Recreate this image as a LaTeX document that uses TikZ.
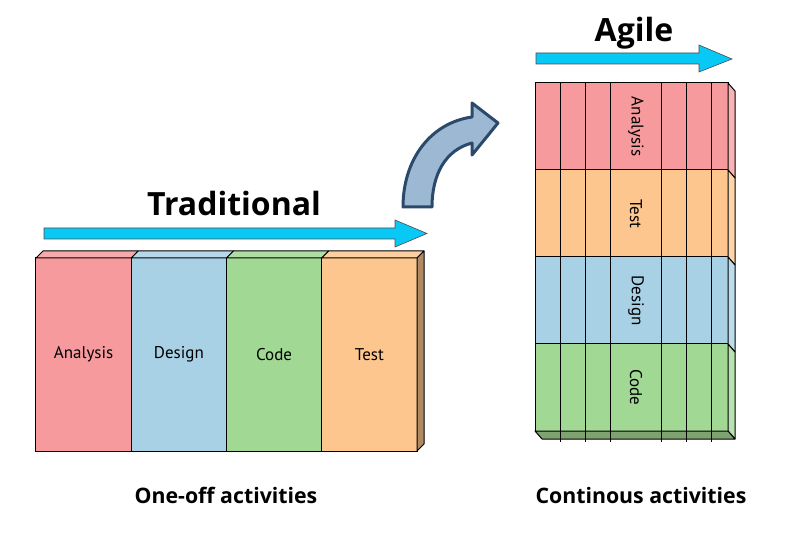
\documentclass[tikz,border=0pt]{standalone}
\usepackage{tikz}
\usepackage{xcolor}
\usepackage{fontspec}
\setmainfont{PT Sans}
\newfontfamily\titlefont{Open Sans}
\definecolor{anared}{RGB}{247,154,157}
\definecolor{desblue}{RGB}{169,209,230}
\definecolor{codgreen}{RGB}{160,216,148}
\definecolor{tesorange}{RGB}{253,198,143}
\definecolor{flowcyan}{RGB}{8,200,245}
\definecolor{bendfill}{RGB}{157,184,211}
\definecolor{bendline}{RGB}{43,74,107}
\definecolor{sidebrown}{RGB}{176,138,98}
\definecolor{basegreen}{RGB}{126,162,112}

\begin{document}
\begin{tikzpicture}[x=1pt,y=-1pt,
            col/.style={rectangle,draw=black,line width=1pt,inner sep=0pt,outer sep=0pt,minimum width=95.25pt,minimum height=193pt,font=\fontsize{17}{19}\selectfont},
            band/.style={rectangle,draw=black,line width=1pt,inner sep=0pt,outer sep=0pt,minimum width=193pt,minimum height=87pt},
            face/.style={draw=black,line width=1pt,line join=round},
            flow/.style={draw=black!70,line width=0.6pt,fill=flowcyan},
            bentarrow/.style={draw=bendline,line width=3pt,line join=round,fill=bendfill},
            title/.style={font=\titlefont\bfseries\fontsize{32}{35}\selectfont,anchor=base},
            caption/.style={font=\titlefont\bfseries\fontsize{21.3}{24}\selectfont,anchor=base},
            vlabel/.style={rotate=-90,font=\fontsize{17}{19}\selectfont}]
            \useasboundingbox (0,0) rectangle (785,537);

            \node[col,fill=anared] (A) at (83.6,354.5) {Analysis};
            \node[col,fill=desblue] (D) at (178.9,354.5) {Design};
            \node[col,fill=codgreen] (C) at (274.1,354.5) {Code};
            \node[col,fill=tesorange] (T) at (369.4,354.5) {Test};
            \foreach \n/\c in {A/anared,D/desblue,C/codgreen,T/tesorange}
                \filldraw[face,fill=\c!85!white] (\n.north west) -- ++(7,-7) -- ([shift={(7,-7)}]\n.north east) -- (\n.north east) -- cycle;
            \filldraw[face,fill=sidebrown] (T.north east) -- ++(7,-7) -- ([shift={(7,-7)}]T.south east) -- (T.south east) -- cycle;

            \filldraw[flow] (44,228) -- (395,228) -- (395,220) -- (427,233.5) -- (395,247) -- (395,239) -- (44,239) -- cycle;
            \node[title] (Tr) at (234,216) {Traditional};
            \node[caption] (One) at (226,503) {One-off activities};

            \filldraw[bentarrow] (403,207) .. controls (403,160) and (430,123) .. (472,117) -- (472,103) -- (498,123) -- (472,155) -- (472,143) .. controls (445,150) and (432,175) .. (432,207) -- cycle;

            \node[band,fill=anared] (A2) at (631.5,126.5) {};
            \node[band,fill=tesorange] (T2) at (631.5,213.5) {};
            \node[band,fill=desblue] (D2) at (631.5,300.5) {};
            \node[band,fill=codgreen] (C2) at (631.5,387.5) {};
            \foreach \n/\c in {A2/anared,T2/tesorange,D2/desblue,C2/codgreen}
                \filldraw[face,fill=\c!75!white] (\n.north east) -- ++(7,8) -- ([shift={(7,8)}]\n.south east) -- (\n.south east) -- cycle;
            \filldraw[face,fill=basegreen] (C2.south west) -- ++(7,8) -- ([shift={(7,8)}]C2.south east) -- (C2.south east) -- cycle;
            \foreach \x in {560,585,610,661,686,711}
                \draw[line width=1pt] (\x,83) -- (\x,442);
            \node[vlabel] (LA) at (636,126.5) {Analysis};
            \node[vlabel] (LT) at (636,213.5) {Test};
            \node[vlabel] (LD) at (636,300.5) {Design};
            \node[vlabel] (LC) at (636,387.5) {Code};

            \filldraw[flow] (536,53) -- (699,53) -- (699,45) -- (732,59) -- (699,72) -- (699,64) -- (536,64) -- cycle;
            \node[title] (Ag) at (634,42) {Agile};
            \node[caption] (Cont) at (641,503) {Continous activities};
        \end{tikzpicture}
\end{document}
